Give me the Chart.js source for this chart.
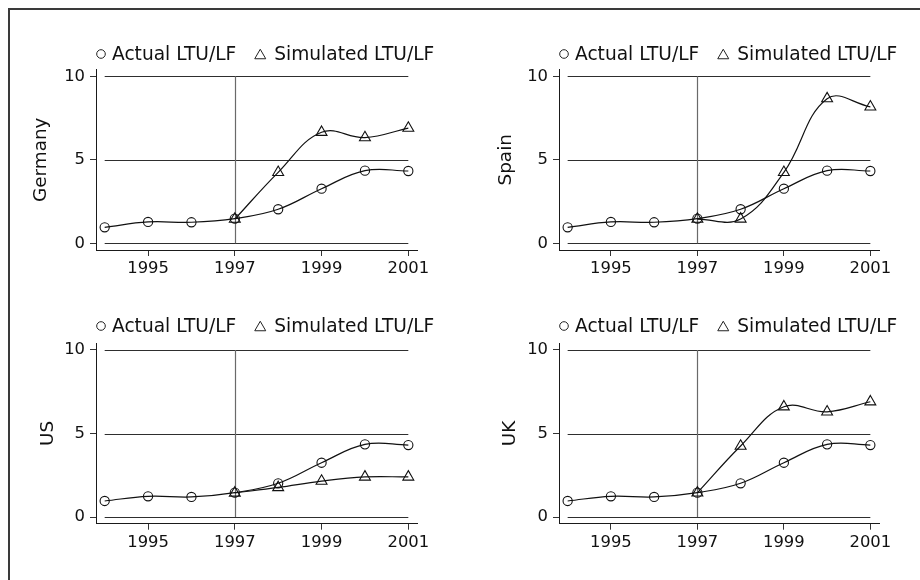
<!DOCTYPE html>
<html>
<head>
<meta charset="utf-8">
<script src="https://cdn.jsdelivr.net/npm/chart.js@4/dist/chart.umd.min.js"></script>
<style>
  html, body { margin: 0; padding: 0; background: #fff; }
  #frame { position: absolute; left: 0; top: 0; width: 920px; height: 580px; overflow: hidden; background: #fff; }
  #border { position: absolute; left: 8px; top: 8px; width: 930px; height: 590px; border-left: 2px solid #3a3a3a; border-top: 2px solid #3a3a3a; }
  .panel { position: absolute; width: 460px; height: 290px; }
  .panel canvas { display: block; }
</style>
</head>
<body>
<div id="frame">
  <div id="border"></div>
  <div class="panel" style="left:0;top:0"><canvas id="c0" width="460" height="290"></canvas></div>
  <div class="panel" style="left:460px;top:0"><canvas id="c1" width="460" height="290"></canvas></div>
  <div class="panel" style="left:0;top:290px"><canvas id="c2" width="460" height="290"></canvas></div>
  <div class="panel" style="left:460px;top:290px"><canvas id="c3" width="460" height="290"></canvas></div>
</div>
<script>
// Long-term unemployment as a share of the labour force, actual vs simulated
const years = [1994, 1995, 1996, 1997, 1998, 1999, 2000, 2001];
const xTickLabels = [1995, 1997, 1999, 2001];
const yTickValues = [0, 5, 10];
const policyYear = 1997;
const seriesLabels = ['Actual LTU/LF', 'Simulated LTU/LF'];
const countries = ['Germany', 'Spain', 'US', 'UK'];

const actualGermany    = [0.96, 1.28, 1.26, 1.48, 2.04, 3.27, 4.35, 4.33];
const simulatedGermany = [null, null, null, 1.45, 4.25, 6.65, 6.33, 6.90];
const actualSpain      = [0.96, 1.28, 1.26, 1.48, 2.04, 3.27, 4.35, 4.33];
const simulatedSpain   = [null, null, null, 1.45, 1.46, 4.25, 8.66, 8.17];
const actualUS         = [0.96, 1.24, 1.20, 1.46, 2.02, 3.25, 4.35, 4.31];
const simulatedUS      = [null, null, null, 1.44, 1.77, 2.15, 2.40, 2.40];
const actualUK         = [0.96, 1.24, 1.20, 1.46, 2.02, 3.25, 4.35, 4.31];
const simulatedUK      = [null, null, null, 1.45, 4.25, 6.60, 6.30, 6.90];

const FONT = '"DejaVu Sans", "Liberation Sans", Arial, sans-serif';
const INK = '#111';

function toPoints(values) {
  return years.map((yr, i) => ({ x: yr, y: values[i] }));
}

// Horizontal reference lines over the data span plus the vertical policy-year line
const referenceLines = {
  id: 'referenceLines',
  beforeDatasetsDraw(chart) {
    const { ctx, scales: { x, y } } = chart;
    const x0 = x.getPixelForValue(years[0]);
    const x1 = x.getPixelForValue(years[years.length - 1]);
    ctx.save();
    ctx.lineWidth = 1;
    ctx.strokeStyle = '#2e2e2e';
    yTickValues.forEach(v => {
      const py = Math.round(y.getPixelForValue(v)) + 0.5;
      ctx.beginPath();
      ctx.moveTo(x0, py);
      ctx.lineTo(x1, py);
      ctx.stroke();
    });
    const px = Math.round(x.getPixelForValue(policyYear)) + 0.5;
    ctx.strokeStyle = '#6a6a6a';
    ctx.lineWidth = 1.2;
    ctx.beginPath();
    ctx.moveTo(px, y.getPixelForValue(yTickValues[0]));
    ctx.lineTo(px, y.getPixelForValue(yTickValues[yTickValues.length - 1]));
    ctx.stroke();
    ctx.restore();
  }
};

// One-row key above each panel: hollow symbol followed by the series label
const pairLegend = {
  id: 'pairLegend',
  afterDraw(chart, args, opts) {
    const { ctx, chartArea } = chart;
    ctx.save();
    ctx.font = '18.6px ' + FONT;
    ctx.textBaseline = 'middle';
    ctx.textAlign = 'left';
    ctx.lineWidth = 1;
    ctx.strokeStyle = '#222';
    const y = opts.rowY;
    let cx = chartArea.left + 5;
    chart.data.datasets.forEach((ds, i) => {
      ctx.beginPath();
      if (ds.pointStyle === 'triangle') {
        const s = 11, h = s * Math.sqrt(3) / 2;
        ctx.moveTo(cx, y - h / 2);
        ctx.lineTo(cx + s / 2, y + h / 2);
        ctx.lineTo(cx - s / 2, y + h / 2);
        ctx.closePath();
      } else {
        ctx.arc(cx, y, 4.3, 0, Math.PI * 2);
      }
      ctx.stroke();
      const tx = cx + (ds.pointStyle === 'triangle' ? 14 : 11);
      ctx.fillStyle = INK;
      ctx.fillText(ds.label, tx, y + 1);
      cx = tx + ctx.measureText(ds.label).width + 24;
    });
    ctx.restore();
  }
};

function makePanel(canvasId, title, actual, simulated, g) {
  const W = 460, H = 290, AXIS_H = 30;
  const lineStyle = {
    borderColor: INK,
    borderWidth: 1.2,
    pointBorderColor: INK,
    pointBackgroundColor: 'rgba(0,0,0,0)',
    pointBorderWidth: 1.1,
    tension: 0.4,
    fill: false,
    spanGaps: false
  };
  return new Chart(document.getElementById(canvasId), {
    type: 'line',
    data: {
      datasets: [
        Object.assign({ label: seriesLabels[0], data: toPoints(actual), pointStyle: 'circle', pointRadius: 4.6 }, lineStyle),
        Object.assign({ label: seriesLabels[1], data: toPoints(simulated), pointStyle: 'triangle', pointRadius: 6.3 }, lineStyle)
      ]
    },
    options: {
      responsive: false,
      animation: false,
      devicePixelRatio: 1,
      events: [],
      layout: { padding: { left: 0, right: W - g.r, top: g.t, bottom: H - g.b - AXIS_H } },
      plugins: {
        legend: { display: false },
        tooltip: { enabled: false },
        pairLegend: { rowY: g.legendY }
      },
      scales: {
        x: {
          type: 'linear',
          min: 1993.8,
          max: 2001.2,
          afterBuildTicks: s => { s.ticks = xTickLabels.map(v => ({ value: v })); },
          afterFit: s => { s.height = AXIS_H; },
          grid: { drawOnChartArea: false, drawTicks: true, tickLength: 6, color: '#333', lineWidth: 1 },
          border: { display: true, color: '#1a1a1a', width: 1 },
          ticks: {
            autoSkip: false, maxRotation: 0, padding: 3,
            color: INK, font: { family: FONT, size: 16.4 },
            callback: v => String(v)
          }
        },
        y: {
          min: -0.4,
          max: 10.4,
          afterBuildTicks: s => { s.ticks = yTickValues.map(v => ({ value: v })); },
          afterFit: s => { s.width = g.l; },
          grid: { drawOnChartArea: false, drawTicks: true, tickLength: 6, color: '#333', lineWidth: 1 },
          border: { display: true, color: '#1a1a1a', width: 1 },
          ticks: {
            padding: 5, color: INK, font: { family: FONT, size: 16.4 },
            callback: v => String(v)
          },
          title: {
            display: true, text: title, color: INK,
            font: { family: FONT, size: 18.4 },
            padding: { top: g.titlePad, bottom: 0 }
          }
        }
      }
    },
    plugins: [referenceLines, pairLegend]
  });
}

makePanel('c0', countries[0], actualGermany, simulatedGermany, { l: 96, r: 417, t: 69.6, b: 250, titlePad: 30, legendY: 54 });
makePanel('c1', countries[1], actualSpain,   simulatedSpain,   { l: 99, r: 419, t: 69.6, b: 250, titlePad: 35, legendY: 54 });
makePanel('c2', countries[2], actualUS,      simulatedUS,      { l: 96, r: 417, t: 53.3, b: 233.7, titlePad: 37, legendY: 36 });
makePanel('c3', countries[3], actualUK,      simulatedUK,      { l: 99, r: 419, t: 53.3, b: 233.7, titlePad: 39, legendY: 36 });
</script>
</body>
</html>
